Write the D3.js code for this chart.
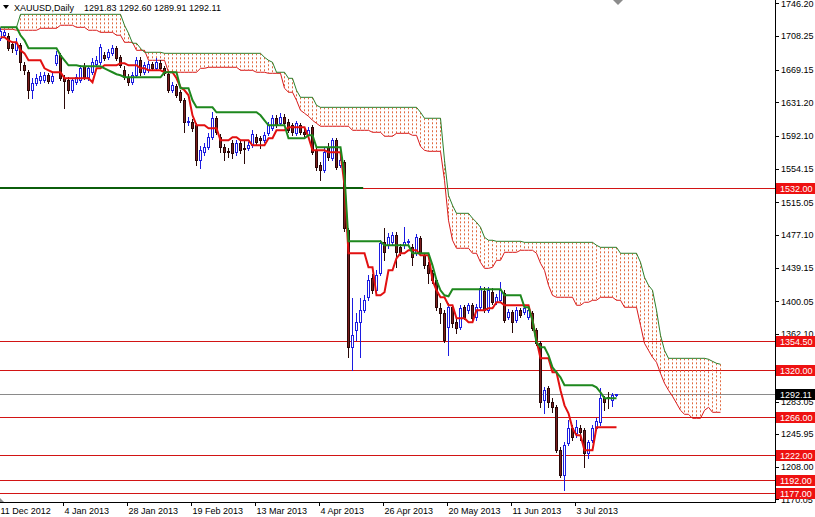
<!DOCTYPE html>
<html><head><meta charset="utf-8">
<script src="https://cdn.jsdelivr.net/npm/d3@7"></script>
<style>
html,body{margin:0;padding:0;background:#fff;overflow:hidden}
svg{display:block}
text{font-family:"Liberation Sans",Arial,sans-serif;font-size:9px}
</style>
</head><body>
<svg id="c" width="815" height="517"></svg>
<script>
const symbol = "XAUUSD,Daily";
const lastOHLC = ["1291.83", "1292.60", "1289.91", "1292.11"];

const open = [
1705.6,1709.1,1707.9,1698.6,1691.6,1697.4,1674.2,1666.1,1645.2,1653.3,
1656.8,1656.8,1662.6,1655.6,1676.5,1685.8,1659.1,1656.8,1645.2,1654.5,
1656.8,1673.0,1660.3,1666.1,1675.4,1677.7,1685.8,1683.5,1688.1,1694.0,
1683.5,1668.4,1660.3,1654.5,1662.6,1680.0,1666.1,1668.4,1675.4,1670.7,
1676.5,1670.7,1663.8,1645.2,1649.8,1642.9,1633.6,1608.0,1608.0,1604.5,
1563.9,1573.2,1579.0,1590.6,1612.7,1590.6,1579.0,1574.3,1583.6,1573.2,
1583.6,1577.8,1577.8,1581.3,1590.6,1589.4,1587.1,1595.2,1601.0,1612.7,
1606.8,1613.8,1608.0,1604.5,1595.2,1604.5,1596.4,1592.9,1602.2,1575.5,
1558.1,1552.3,1579.0,1566.2,1587.1,1558.1,1561.6,1482.6,1346.7,1366.4,
1375.7,1389.7,1404.8,1426.8,1412.9,1432.6,1468.6,1465.2,1468.6,1476.8,
1462.8,1465.2,1468.6,1462.8,1455.9,1473.3,1453.5,1441.9,1432.6,1424.5,
1392.0,1386.2,1369.9,1393.2,1375.7,1369.9,1393.2,1389.7,1395.5,1381.5,
1393.2,1411.7,1389.7,1410.6,1399.0,1401.3,1409.4,1381.5,1387.3,1378.1,
1389.7,1387.3,1381.5,1386.2,1366.4,1351.3,1285.1,1299.1,1282.8,1277.0,
1227.1,1198.0,1235.2,1252.6,1246.8,1252.6,1250.3,1223.6,1238.7,1252.6,
1259.6,1287.5,1288.6,1285.1,1291.83];
const high = [
1717.2,1714.9,1711.4,1700.9,1705.6,1699.8,1677.7,1668.4,1659.1,1663.8,
1666.1,1666.1,1664.9,1664.9,1690.5,1688.1,1662.6,1660.3,1659.1,1663.8,
1674.2,1676.5,1673.0,1682.3,1684.7,1698.6,1689.3,1692.8,1697.4,1696.3,
1685.8,1673.0,1663.8,1666.1,1683.5,1683.5,1677.7,1678.9,1677.7,1682.3,
1680.0,1673.0,1666.1,1654.5,1652.1,1645.2,1635.9,1613.8,1611.5,1606.8,
1580.1,1583.6,1595.2,1619.6,1615.0,1594.1,1582.5,1577.8,1587.1,1587.1,
1587.1,1587.1,1584.8,1598.7,1594.1,1591.8,1596.4,1608.0,1616.1,1616.1,
1618.5,1617.3,1611.5,1606.8,1609.2,1606.8,1599.9,1602.2,1604.5,1577.8,
1561.6,1577.8,1583.6,1589.4,1589.4,1567.4,1563.9,1484.9,1403.6,1386.2,
1403.6,1407.1,1430.3,1431.5,1436.1,1471.0,1484.9,1479.1,1480.3,1480.3,
1466.3,1486.1,1472.1,1466.3,1477.9,1475.6,1455.9,1445.4,1436.1,1426.8,
1397.8,1389.7,1397.8,1395.5,1380.4,1395.5,1395.5,1397.8,1397.8,1396.6,
1417.5,1416.4,1416.4,1415.2,1408.3,1422.2,1412.9,1390.8,1389.7,1393.2,
1392.0,1395.5,1393.2,1388.5,1368.8,1353.7,1300.2,1301.4,1287.5,1279.3,
1230.6,1236.4,1261.9,1256.1,1261.9,1256.1,1252.6,1238.7,1256.1,1264.2,
1299.1,1289.8,1294.4,1293.3,1292.60];
const low = [
1703.2,1706.7,1691.6,1689.3,1687.0,1668.4,1663.8,1635.9,1635.9,1651.0,
1653.3,1654.5,1653.3,1653.3,1674.2,1656.8,1624.3,1641.7,1642.9,1652.1,
1654.5,1658.0,1656.8,1663.8,1673.0,1675.4,1680.0,1681.2,1685.8,1680.0,
1671.9,1658.0,1651.0,1652.1,1660.3,1662.6,1663.8,1666.1,1668.4,1668.4,
1668.4,1662.6,1642.9,1642.9,1637.0,1631.2,1596.4,1604.5,1597.6,1558.1,
1554.6,1569.7,1576.6,1588.3,1594.1,1573.2,1563.9,1567.4,1566.2,1569.7,
1572.0,1560.4,1575.5,1579.0,1582.5,1577.8,1584.8,1592.9,1598.7,1602.2,
1604.5,1604.5,1596.4,1592.9,1592.9,1594.1,1591.8,1590.6,1570.8,1552.3,
1540.6,1549.9,1563.9,1563.9,1553.4,1555.7,1481.4,1335.1,1320.0,1354.8,
1335.1,1387.3,1401.3,1409.4,1410.6,1430.3,1447.7,1461.7,1466.3,1439.6,
1453.5,1461.7,1465.2,1441.9,1453.5,1453.5,1438.4,1421.0,1421.0,1389.7,
1374.6,1352.5,1337.4,1369.9,1363.0,1367.6,1379.2,1386.2,1378.1,1378.1,
1390.8,1387.3,1387.3,1396.6,1396.6,1399.0,1375.7,1379.2,1364.1,1375.7,
1381.5,1385.0,1379.2,1366.4,1349.0,1277.0,1270.0,1277.0,1271.2,1224.8,
1195.7,1180.6,1232.9,1238.7,1242.2,1238.7,1207.3,1217.8,1236.4,1250.3,
1256.1,1273.5,1275.9,1278.2,1289.91];
const close = [
1713.7,1712.5,1694.0,1694.0,1699.8,1677.7,1668.4,1645.2,1653.3,1659.1,
1661.4,1662.6,1655.6,1661.4,1685.8,1659.1,1655.6,1645.2,1656.8,1660.3,
1670.7,1660.3,1670.7,1677.7,1680.0,1695.1,1682.3,1689.3,1694.0,1682.3,
1674.2,1660.3,1654.5,1662.6,1680.0,1666.1,1674.2,1675.4,1670.7,1677.7,
1670.7,1664.9,1645.2,1651.0,1639.4,1633.6,1608.0,1609.2,1601.0,1563.9,
1575.5,1579.0,1590.6,1612.7,1596.4,1579.0,1573.2,1573.2,1572.0,1583.6,
1575.5,1576.6,1581.3,1594.1,1584.8,1587.1,1592.9,1604.5,1612.7,1604.5,
1613.8,1606.8,1598.7,1596.4,1606.8,1596.4,1594.1,1598.7,1573.2,1555.7,
1552.3,1573.2,1567.4,1587.1,1555.7,1563.9,1484.9,1346.7,1360.6,1375.7,
1389.7,1401.3,1424.5,1412.9,1430.3,1467.5,1457.0,1474.5,1476.8,1457.0,
1457.0,1468.6,1469.8,1451.2,1474.5,1455.9,1441.9,1432.6,1424.5,1393.2,
1386.2,1354.8,1393.2,1374.6,1368.8,1392.0,1381.5,1395.5,1380.4,1393.2,
1415.2,1389.7,1412.9,1399.0,1404.8,1412.9,1378.1,1387.3,1375.7,1389.7,
1383.9,1392.0,1389.7,1368.8,1351.3,1282.8,1296.8,1282.8,1277.0,1227.1,
1198.0,1232.9,1252.6,1242.2,1253.8,1248.0,1223.6,1236.4,1252.6,1260.8,
1287.5,1282.8,1287.5,1291.0,1292.11];

const tenkan = [
1706.7,1706.7,1703.2,1700.9,1700.9,1691.6,1688.1,1680.0,1680.0,1680.0,
1680.0,1670.7,1668.4,1666.1,1666.1,1666.1,1659.1,1659.1,1659.1,1659.1,
1659.1,1659.1,1659.1,1654.5,1670.7,1670.7,1674.2,1674.2,1674.2,1674.2,
1676.5,1676.5,1674.2,1674.2,1674.2,1670.7,1670.7,1668.4,1668.4,1668.4,
1668.4,1666.1,1666.1,1666.1,1659.1,1648.7,1645.2,1639.4,1616.1,1604.5,
1604.5,1604.5,1601.0,1601.0,1601.0,1587.1,1587.1,1587.1,1590.6,1590.6,
1587.1,1587.1,1587.1,1581.3,1581.3,1581.3,1581.3,1589.4,1589.4,1598.7,
1598.7,1598.7,1602.2,1602.2,1602.2,1602.2,1602.2,1590.6,1575.5,1575.5,
1575.5,1575.5,1573.2,1573.2,1573.2,1573.2,1534.8,1455.9,1455.9,1455.9,
1455.9,1455.9,1439.6,1439.6,1407.1,1407.1,1410.6,1436.1,1436.1,1450.1,
1455.9,1455.9,1459.4,1459.4,1459.4,1453.5,1453.5,1453.5,1424.5,1412.9,
1404.8,1404.8,1395.5,1395.5,1380.4,1380.4,1380.4,1375.7,1375.7,1389.7,
1389.7,1389.7,1392.0,1392.0,1399.0,1399.0,1395.5,1395.5,1395.5,1395.5,
1395.5,1395.5,1395.5,1378.1,1354.8,1333.9,1333.9,1333.9,1317.7,1317.7,
1296.8,1279.3,1270.0,1252.6,1244.5,1244.5,1227.1,1227.1,1227.1,1253.8,
1253.8,1253.8,1253.8,1253.8,1253.8];
const kijun = [
1718.3,1718.3,1718.3,1718.3,1718.3,1709.1,1703.2,1694.0,1694.0,1694.0,
1694.0,1694.0,1694.0,1694.0,1694.0,1685.8,1680.0,1674.2,1674.2,1674.2,
1673.0,1673.0,1673.0,1673.0,1673.0,1673.0,1670.7,1668.4,1666.1,1663.8,
1662.6,1660.3,1660.3,1660.3,1660.3,1660.3,1660.3,1660.3,1660.3,1660.3,
1660.3,1666.1,1666.1,1666.1,1666.1,1647.5,1647.5,1647.5,1633.6,1625.4,
1625.4,1625.4,1625.4,1625.4,1619.6,1619.6,1619.6,1619.6,1619.6,1619.6,
1619.6,1619.6,1619.6,1619.6,1619.6,1616.1,1610.3,1604.5,1604.5,1604.5,
1604.5,1604.5,1589.4,1589.4,1589.4,1589.4,1589.4,1592.9,1592.9,1579.0,
1579.0,1579.0,1579.0,1579.0,1579.0,1579.0,1546.5,1469.8,1469.8,1469.8,
1469.8,1469.8,1469.8,1469.8,1469.8,1469.8,1465.2,1465.2,1465.2,1465.2,
1465.2,1465.2,1465.2,1455.9,1455.9,1455.9,1455.9,1455.9,1441.9,1424.5,
1412.9,1407.1,1405.9,1414.1,1414.1,1414.1,1414.1,1414.1,1414.1,1414.1,
1414.1,1414.1,1414.1,1414.1,1414.1,1414.1,1407.1,1407.1,1407.1,1407.1,
1407.1,1393.2,1393.2,1378.1,1352.5,1346.7,1346.7,1337.4,1323.4,1317.7,
1311.8,1302.6,1302.6,1302.6,1302.6,1302.6,1302.6,1302.6,1302.6,1300.2,
1294.4,1287.5,1287.5,1287.5,1287.5];

// Senkou spans, already shifted 26 bars forward (181 points)
const senkouUpper = [
1718.3,1718.3,1718.3,1718.3,1718.3,
1733.4,1733.4,1733.4,1733.4,1733.4,1733.4,1733.4,1733.4,1733.4,1733.4,1733.4,1733.4,1733.4,
1733.4,1733.4,1733.4,1733.4,1733.4,1733.4,1733.4,1733.4,1733.4,1733.4,1733.4,1733.4,1733.4,
1720.7,1711.4,1699.8,1699.8,1694.0,
1689.3,1689.3,1689.3,1689.3,1689.3,
1688.1,1688.1,1688.1,1688.1,1688.1,1688.1,1688.1,1688.1,1688.1,1688.1,1688.1,1688.1,1688.1,
1688.1,1688.1,1688.1,1688.1,1688.1,1688.1,1688.1,1688.1,1688.1,1688.1,1688.1,1688.1,
1683.5,1680.0,1677.7,1666.1,1666.1,1666.1,1659.1,1659.1,1645.2,
1637.0,1637.0,1637.0,1637.0,1627.8,
1625.4,1625.4,1625.4,1625.4,1625.4,1625.4,1625.4,1625.4,1625.4,1625.4,1625.4,1625.4,1625.4,
1625.4,1625.4,1625.4,1625.4,1625.4,1625.4,1625.4,1625.4,1625.4,1625.4,1625.4,1625.4,
1619.6,1612.7,1612.7,1612.7,1612.7,1612.7,
1563.9,1523.2,1511.6,1502.3,1502.3,1502.3,1502.3,1496.5,1491.9,1486.1,1474.5,1471.0,1471.0,
1469.8,1469.8,1469.8,1469.8,1469.8,1469.8,1469.8,
1468.6,1468.6,1468.6,1468.6,1468.6,1468.6,1468.6,1468.6,1468.6,
1468.6,1468.6,1468.6,1468.6,1468.6,1468.6,1468.6,1468.6,1468.6,
1465.2,1462.8,1462.8,1462.8,1462.8,1462.8,
1455.9,1455.9,1455.9,1455.9,1455.9,
1445.4,1428.0,1418.7,1412.9,1389.7,1360.6,1343.2,
1333.9,1333.9,1333.9,1333.9,1333.9,1333.9,1333.9,1333.9,1333.9,1333.9,
1332.8,1330.4,1328.1,1327.0];
const senkouLower = [
1716.0,1716.0,1716.0,1716.0,
1714.9,1714.9,1714.9,1714.9,1714.9,1714.9,
1717.2,1717.2,1717.2,1717.2,1717.2,
1720.7,1720.7,1720.7,1720.7,
1718.3,1718.3,1718.3,
1714.9,1714.9,1714.9,
1712.5,1712.5,1712.5,1712.5,
1709.1,1709.1,
1700.9,1700.9,1700.9,
1691.6,1691.6,1691.6,
1680.0,1680.0,1680.0,1680.0,1680.0,
1666.1,1666.1,1666.1,1666.1,1666.1,1666.1,1666.1,1666.1,
1670.7,1670.7,
1671.9,1671.9,1671.9,1671.9,1671.9,1671.9,1671.9,1671.9,
1668.4,1668.4,1668.4,1668.4,
1666.1,1666.1,1666.1,
1664.9,1664.9,1664.9,1664.9,
1647.5,1642.9,1642.9,1633.6,1622.0,1618.5,1615.0,1610.3,1606.8,
1603.4,1603.4,1603.4,1603.4,1603.4,1603.4,1603.4,1603.4,
1598.7,1598.7,1598.7,1598.7,1598.7,
1596.4,1596.4,1596.4,
1591.8,1591.8,1591.8,
1595.2,1595.2,1595.2,1595.2,
1592.9,1592.9,
1580.1,1575.5,1574.3,1574.3,1574.3,1574.3,
1540.6,1494.2,1471.0,
1461.7,1461.7,1461.7,1461.7,
1455.9,1455.9,1445.4,1438.4,1438.4,1439.6,1447.7,1447.7,
1457.0,1457.0,1457.0,1457.0,
1459.4,1459.4,1459.4,1459.4,
1455.9,1444.3,1436.1,1418.7,1407.1,
1404.8,1404.8,1404.8,1404.8,1404.8,
1395.5,1395.5,1399.0,1399.0,1401.3,1401.3,
1404.8,1404.8,1404.8,1404.8,
1401.3,1401.3,
1393.2,1393.2,1393.2,1393.2,
1372.3,1351.3,1343.2,1335.1,1329.3,1316.5,1304.9,1296.8,1289.8,1281.7,1273.5,
1268.9,1268.9,1264.2,1264.2,1264.2,1273.5,1277.0,1271.2,1271.2,1271.2];

const levels = [1532.00, 1354.50, 1320.00, 1266.00, 1222.00, 1192.00, 1177.00];
const bidPrice = 1292.11;
const trendPrice = 1532.00;       // dark green horizontal segment
const trendBars = [-1, 90.8];     // bar span of that segment
const priceTicks = ["1746.20","1708.25","1669.15","1631.20","1592.10","1554.15","1515.05",
  "1477.10","1439.15","1400.05","1362.10","1283.05","1245.95","1208.00","1170.05"];
const dateLabels = ["11 Dec 2012","4 Jan 2013","28 Jan 2013","19 Feb 2013","13 Mar 2013",
  "4 Apr 2013","26 Apr 2013","20 May 2013","11 Jun 2013","3 Jul 2013"];
const dateBars = [0,16,32,48,64,80,96,112,128,144];

// ---------------- drawing ----------------
const W = 815, H = 517, plotR = 775, plotB = 502;
const svg = d3.select("#c");
const x = d3.scaleLinear().domain([0, 180]).range([0, 720]);
const y = d3.scaleLinear().domain([1170.05, 1746.2]).range([499.4, 3.3]);
const px = v => Math.round(v) + 0.5;

svg.append("defs").append("clipPath").attr("id","plot")
  .append("rect").attr("x",0).attr("y",0).attr("width",plotR).attr("height",plotB);
const g = svg.append("g").attr("clip-path","url(#plot)");

// horizontal levels
g.selectAll("line.lvl").data(levels).enter().append("line")
  .attr("x1",0).attr("x2",plotR)
  .attr("y1",d=>px(y(d))).attr("y2",d=>px(y(d)))
  .attr("stroke","#d21414").attr("stroke-width",1);
g.append("line").attr("x1",0).attr("x2",plotR)
  .attr("y1",px(y(bidPrice))).attr("y2",px(y(bidPrice)))
  .attr("stroke","#8a8a8a").attr("stroke-width",1);
g.append("line").attr("x1",x(trendBars[0])).attr("x2",x(trendBars[1]))
  .attr("y1",Math.round(y(trendPrice))).attr("y2",Math.round(y(trendPrice)))
  .attr("stroke","#0b5e0b").attr("stroke-width",2);

// cloud dotted fill
const cloudIdx = d3.range(senkouUpper.length);
g.selectAll("line.cloud").data(cloudIdx).enter().append("line")
  .attr("x1",j=>px(x(j))).attr("x2",j=>px(x(j)))
  .attr("y1",j=>y(senkouUpper[j])).attr("y2",j=>y(senkouLower[j]))
  .attr("stroke","#e0693f").attr("stroke-width",1).attr("stroke-dasharray","2,2");
const cl = arr => d3.line().x((d,j)=>x(j)+0.5).y(d=>y(d))(arr);
g.append("path").attr("d",cl(senkouLower)).attr("fill","none").attr("stroke","#d81a1a").attr("stroke-width",1);
g.append("path").attr("d",cl(senkouUpper)).attr("fill","none").attr("stroke","#2a7f2a").attr("stroke-width",1);

// candles
const bars = d3.range(open.length).map(i=>({i,o:open[i],h:high[i],l:low[i],c:close[i]}));
const cg = g.append("g");
const bull = "#1c1ce0", bearFill = "#7a1d1d", bearLine = "#2a0808";
cg.selectAll("line.wick").data(bars).enter().append("line")
  .attr("x1",d=>px(x(d.i))).attr("x2",d=>px(x(d.i)))
  .attr("y1",d=>Math.round(y(d.h))).attr("y2",d=>Math.round(y(d.l))+1)
  .attr("stroke",d=>d.c>=d.o?bull:bearLine).attr("stroke-width",1);
cg.selectAll("rect.body").data(bars).enter().append("rect")
  .attr("x",d=>Math.round(x(d.i))-0.5)
  .attr("width",2)
  .attr("y",d=>Math.round(y(Math.max(d.o,d.c)))+0.5)
  .attr("height",d=>Math.max(0,Math.round(y(Math.min(d.o,d.c)))-Math.round(y(Math.max(d.o,d.c)))))
  .attr("fill",d=>d.c>=d.o?"#ffffff":bearFill)
  .attr("stroke",d=>d.c>=d.o?bull:bearLine).attr("stroke-width",1);

// ichimoku lines
const ln = arr => d3.line().x((d,i)=>x(i)+0.5).y(d=>y(d))(arr);
g.append("path").attr("d",ln(tenkan)).attr("fill","none").attr("stroke","#e21010").attr("stroke-width",2);
g.append("path").attr("d",ln(kijun)).attr("fill","none").attr("stroke","#1e881e").attr("stroke-width",2);

// shift marker
svg.append("path").attr("d","M613,0 L623,0 L618,5 Z").attr("fill","#8c8c8c");

// right axis
svg.append("line").attr("x1",775.5).attr("x2",775.5).attr("y1",0).attr("y2",plotB+1).attr("stroke","#000");
const ra = svg.append("g");
priceTicks.forEach(t=>{
  const yy = y(+t);
  ra.append("line").attr("x1",776).attr("x2",779).attr("y1",px(yy)).attr("y2",px(yy)).attr("stroke","#000");
  ra.append("text").attr("x",781).attr("y",yy+3.3).attr("fill","#000").text(t);
});
// level labels
levels.forEach(v=>{
  const yy = Math.round(y(v));
  ra.append("rect").attr("x",776).attr("y",yy-5).attr("width",39).attr("height",11).attr("fill","#ee1111");
  ra.append("text").attr("x",780).attr("y",yy+3.5).attr("fill","#fff").text(v.toFixed(2));
});
{
  const yy = Math.round(y(bidPrice));
  ra.append("rect").attr("x",776).attr("y",yy-5).attr("width",39).attr("height",11).attr("fill","#000");
  ra.append("text").attr("x",780).attr("y",yy+3.5).attr("fill","#fff").text(bidPrice.toFixed(2));
}

// bottom axis
svg.append("line").attr("x1",0).attr("x2",776).attr("y1",plotB+0.5).attr("y2",plotB+0.5).attr("stroke","#000");
dateBars.forEach((b,k)=>{
  const xx = Math.round(x(b)) - 0.5;
  svg.append("line").attr("x1",xx).attr("x2",xx).attr("y1",plotB).attr("y2",plotB+4).attr("stroke","#000");
  svg.append("text").attr("x",x(b)+0.5).attr("y",514).attr("fill","#000").text(dateLabels[k]);
});
svg.append("path").attr("d","M0,498 L4,502 L0,502 Z").attr("fill","#8c8c8c");

// header
svg.append("path").attr("d","M3,5 L9,5 L6,9 Z").attr("fill","#000");
svg.append("text").attr("x",14).attr("y",11).attr("fill","#000").text(symbol);
svg.append("text").attr("x",84).attr("y",11).attr("fill","#000").text(lastOHLC.join(" "));
</script>
</body></html>
